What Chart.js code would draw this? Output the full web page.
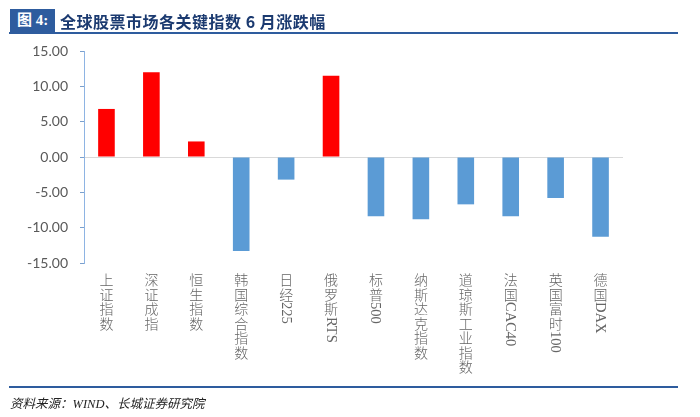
<!DOCTYPE html>
<html>
<head>
<meta charset="utf-8">
<script src="https://cdn.jsdelivr.net/npm/chart.js@4"></script>
<style>
    body { margin: 0; background: #fff; }
    #wrap { position: relative; width: 700px; height: 417px; overflow: hidden; }
    #chart { position: absolute; left: 0; top: 0; }
    #tag {
        position: absolute; left: 10px; top: 9px; width: 45px; height: 23px;
        background: #2E5C9E; color: #fff; font: bold 15px "Liberation Serif", "Noto Sans CJK SC";
        line-height: 23px; text-align: center;
    }
    #title {
        position: absolute; left: 60px; top: 9px; height: 23px; line-height: 23px;
        color: #1B3A70; font: bold 16px "Noto Sans CJK SC", "Liberation Serif";
        letter-spacing: 0.5px;
    }
    .rule { position: absolute; left: 9px; width: 669px; height: 2px; background: #2E5C9E; }
    #source {
        position: absolute; left: 10px; top: 393px;
        font: italic 12.5px "Liberation Serif", "Noto Sans CJK SC"; color: #222;
    }
    .xlab {
        position: absolute; top: 272px; transform: translateX(-50%);
        font: 300 14px "Noto Sans CJK SC"; color: #666; text-align: center;
    }
    .xlab .cjk { display: block; height: 14.5px; line-height: 14.5px; }
    .xlab .latin {
        display: block; margin: 1px auto 0; writing-mode: vertical-rl;
        font: 14.5px "Liberation Serif"; line-height: 15px; width: 15px;
    }
</style>
</head>
<body>
<div id="wrap">
    <canvas id="chart" width="700" height="417"></canvas>
    <div id="tag">图 4:</div>
    <div id="title">全球股票市场各关键指数 6 月涨跌幅</div>
    <div class="rule" style="top:32px"></div>
    <div class="rule" style="top:386px"></div>
    <div id="source">资料来源：WIND、长城证券研究院</div>
</div>
<script>
const categories = ['上证指数', '深证成指', '恒生指数', '韩国综合指数', '日经225', '俄罗斯RTS',
    '标普500', '纳斯达克指数', '道琼斯工业指数', '法国CAC40', '英国富时100', '德国DAX'];
const changes = [6.8, 12.0, 2.2, -13.3, -3.2, 11.5, -8.4, -8.8, -6.7, -8.4, -5.8, -11.3];
const yTicks = [-15, -10, -5, 0, 5, 10, 15];

const upColor = '#FF0000';
const downColor = '#5B9BD5';

//CJK characters stacked upright, latin runs turned sideways
function buildLabel(name) {
    const el = document.createElement('div');
    el.className = 'xlab';
    name.match(/[A-Za-z0-9]+|./g).forEach(part => {
        const span = document.createElement('span');
        span.className = /^[A-Za-z0-9]+$/.test(part) ? 'latin' : 'cjk';
        span.textContent = part;
        el.appendChild(span);
    });
    return el;
}

//Category labels placed under each tick of the x scale
const verticalLabels = {
    id: 'verticalLabels',
    afterRender(chart) {
        const wrap = document.getElementById('wrap');
        wrap.querySelectorAll('.xlab').forEach(el => el.remove());
        const xScale = chart.scales.x;
        categories.forEach((name, i) => {
            const el = buildLabel(name);
            el.style.left = xScale.getPixelForValue(i) + 'px';
            wrap.appendChild(el);
        });
    }
};

const ctx = document.getElementById('chart').getContext('2d');
const myChart = new Chart(ctx, {
    type: 'bar',
    data: {
        labels: categories,
        datasets: [{
            data: changes,
            backgroundColor: changes.map(v => v >= 0 ? upColor : downColor),
            barPercentage: 0.37,
            categoryPercentage: 1
        }]
    },
    options: {
        responsive: false,
        animation: false,
        layout: { padding: { left: 0, top: 51, right: 77, bottom: 154 } },
        plugins: { legend: { display: false }, tooltip: { enabled: false } },
        scales: {
            x: {
                ticks: { display: false },
                grid: { display: false },
                border: { display: false },
                afterFit: (s) => { s.height = 0; }
            },
            y: {
                min: -15,
                max: 15,
                afterBuildTicks: (s) => { s.ticks = yTicks.map(v => ({ value: v })); },
                afterFit: (s) => { s.width = 84; },
                ticks: {
                    padding: 12,
                    color: '#595959',
                    font: { family: 'Lato', size: 14 },
                    callback: (v) => Number(v).toFixed(2)
                },
                grid: {
                    color: (c) => c.tick && c.tick.value === 0 ? '#D9D9D9' : 'rgba(0,0,0,0)',
                    tickColor: '#7BA0CD',
                    tickLength: 4
                },
                border: { color: '#8EB4E3', width: 1 }
            }
        }
    },
    plugins: [verticalLabels]
});
</script>
</body>
</html>
